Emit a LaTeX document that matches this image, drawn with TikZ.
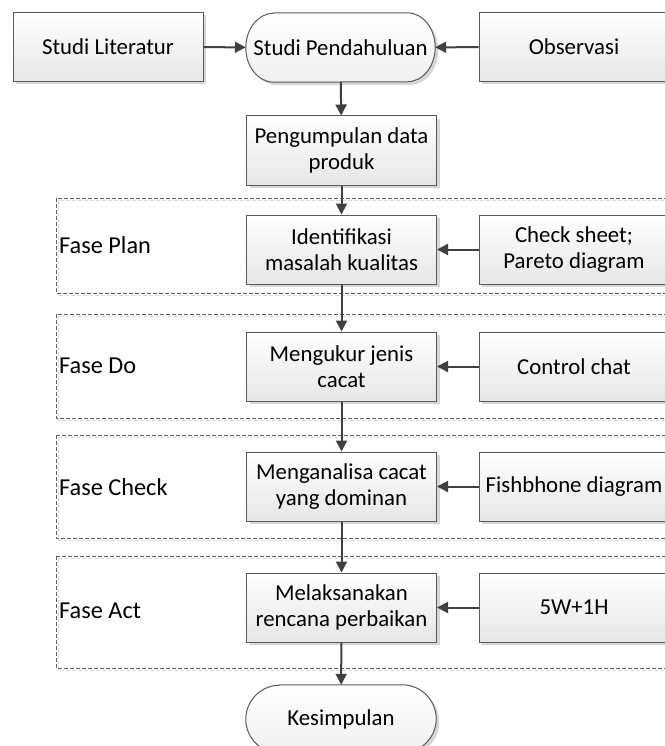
\documentclass[tikz,border=0pt]{standalone}
\usepackage{fontspec}
\setmainfont{Carlito}
\usetikzlibrary{arrows.meta,shadows}
\definecolor{linec}{HTML}{404040}
\definecolor{boxline}{HTML}{5A5A5A}
\definecolor{dashc}{HTML}{5F5F5F}
\definecolor{shadowc}{HTML}{D6D6D6}
\definecolor{boxbot}{HTML}{E6E6E6}
\definecolor{frameshadow}{HTML}{DDDDDD}
\pgfdeclarelayer{bg}
\pgfsetlayers{bg,main}
\begin{document}
\begin{tikzpicture}[x=1pt,y=-1pt,
  boxfont/.style={font=\fontsize{22.8}{26.5}\selectfont},
  box/.style={boxfont, draw=boxline, line width=1pt, top color=white, bottom color=boxbot,
    minimum width=190pt, minimum height=69pt, inner sep=2pt, align=center,
    general shadow={fill=shadowc, shadow xshift=3pt, shadow yshift=-3pt}},
  termtext/.style={boxfont, minimum width=189pt, minimum height=69pt, inner sep=0pt, align=center},
  termline/.style={draw=boxline, line width=1pt, top color=white, bottom color=boxbot!60,
    general shadow={fill=shadowc, shadow xshift=3pt, shadow yshift=-3pt}},
  arr/.style={draw=linec, line width=2pt, -{Triangle[length=11pt,width=11pt]}},
  phaseframe/.style={draw=dashc, line width=0.9pt, dash pattern=on 4pt off 2pt},
  phaseshadow/.style={draw=frameshadow, line width=0.9pt, dash pattern=on 4pt off 2pt},
  fase/.style={anchor=west, inner sep=0pt, font=\fontsize{24.3}{28}\selectfont}
]
\useasboundingbox (0,0) rectangle (664,746);

% top row
\node[box] (lit) at (108,47) {Studi Literatur};
\node[termtext] (pend) at (340.5,47.5) {Studi Pendahuluan};
\node[box] (obs) at (574,47) {Observasi};

\node[box] (peng) at (341.5,150.5) {Pengumpulan data\\produk};

% phase labels
\node[fase] (lplan) at (59,245) {Fase Plan};
\node[fase] (ldo) at (59,366) {Fase Do};
\node[fase] (lcheck) at (59,487) {Fase Check};
\node[fase] (lact) at (59,611) {Fase Act};

% main column
\node[box] (ident) at (341.5,249.5) {Identifikasi\\masalah kualitas};
\node[box] (meng) at (341.5,366.5) {Mengukur jenis\\cacat};
\node[box] (anal) at (341.5,486.5) {Menganalisa cacat\\yang dominan};
\node[box] (mel) at (341.5,607.5) {Melaksanakan\\rencana perbaikan};
\node[termtext, minimum width=190pt, minimum height=68pt] (kes) at (341,719) {Kesimpulan};

% tools column
\node[box] (chk) at (574,249.5) {Check sheet;\\Pareto diagram};
\node[box] (ctrl) at (574,366.5) {Control chat};
\node[box] (fish) at (574,486.5) {Fishbhone diagram};
\node[box] (w5) at (574,607.5) {5W+1H};

% connectors
\draw[arr] (lit) -- (pend);
\draw[arr] (obs) -- (pend);
\draw[arr] (pend) -- (peng);
\draw[arr] (peng) -- (ident);
\draw[arr] (ident) -- (meng);
\draw[arr] (meng) -- (anal);
\draw[arr] (anal) -- (mel);
\draw[arr] (mel) -- (kes);
\draw[arr] (chk) -- (ident);
\draw[arr] (ctrl) -- (meng);
\draw[arr] (fish) -- (anal);
\draw[arr] (w5) -- (mel);

\begin{pgfonlayer}{bg}
  \fill[white] (0,0) rectangle (664,746);
  % phase frames
  \draw[phaseshadow] (58,200) rectangle (674,295);
  \draw[phaseframe] (56,198) rectangle (672,293);
  \draw[phaseshadow] (58,316) rectangle (674,420);
  \draw[phaseframe] (56,314) rectangle (672,418);
  \draw[phaseshadow] (58,437) rectangle (674,540);
  \draw[phaseframe] (56,435) rectangle (672,538);
  \draw[phaseshadow] (58,558) rectangle (674,670);
  \draw[phaseframe] (56,556) rectangle (672,668);
  % terminator outlines
  \path[termline] ([xshift=28pt]pend.north west) -- ([xshift=-28pt]pend.north east)
    arc[start angle=90,end angle=-90,x radius=28pt,y radius=34.5pt]
    -- ([xshift=28pt]pend.south west)
    arc[start angle=270,end angle=90,x radius=28pt,y radius=34.5pt] -- cycle;
  \path[termline] ([xshift=34pt]kes.north west) -- ([xshift=-34pt]kes.north east)
    arc[start angle=90,end angle=-90,x radius=34pt,y radius=34pt]
    -- ([xshift=34pt]kes.south west)
    arc[start angle=270,end angle=90,x radius=34pt,y radius=34pt] -- cycle;
\end{pgfonlayer}
\end{tikzpicture}
\end{document}
